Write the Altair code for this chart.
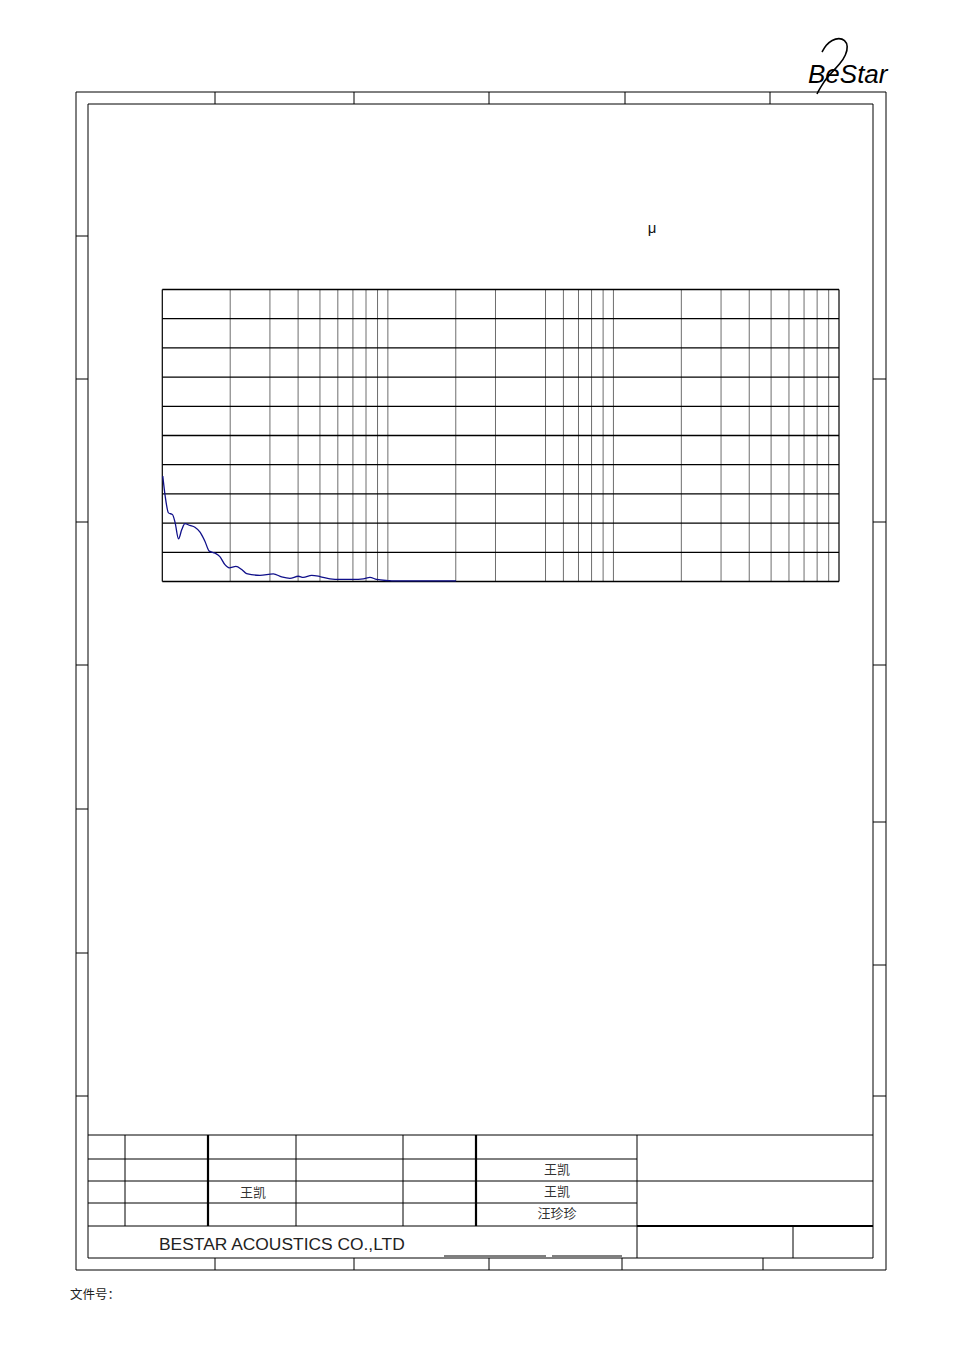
import altair as alt
import pandas as pd

# ---------------- data ----------------
freq_hz = [20.1, 20.6, 21.3, 22.2, 22.8, 23.6, 24.4, 25.2, 26.5, 27.9, 29.4, 30.9,
           32.3, 34.3, 36.0, 37.9, 39.6, 42.4, 45.0, 47.3, 54.2, 62.1, 67.6, 73.6,
           80.2, 84.3, 91.9, 100, 110.8, 122.7, 140.5, 155.6, 166.6, 178.4, 200.8,
           211.4, 268.5, 400.9]
level = [3.61, 2.92, 2.35, 2.29, 2.01, 1.46, 1.78, 1.98, 1.92, 1.86, 1.69, 1.38,
         1.04, 0.97, 0.85, 0.58, 0.47, 0.52, 0.41, 0.27, 0.21, 0.26, 0.16, 0.11,
         0.18, 0.14, 0.21, 0.17, 0.09, 0.07, 0.07, 0.09, 0.14, 0.07, 0.03,
         0.02, 0.02, 0.02]

grid_freqs = [40, 60, 80, 100, 120, 140, 160, 180, 200,
              400, 600, 1000, 1200, 1400, 1600, 1800, 2000,
              4000, 6000, 8000, 10000, 12000, 14000, 16000, 18000]
edge_freqs = [20, 20000]
grid_levels = [0, 1, 2, 3, 4, 5, 6, 7, 8, 9, 10]
f_min, f_max = 20, 20000
lvl_min, lvl_max = 0, 10

cjk_texts = ["王凯", "王凯", "王凯", "汪珍珍"]
file_label = "文件号："
company = "BESTAR ACOUSTICS CO.,LTD"
unit_text = "μ"
logo_text = "BeStar"

# ---------------- layout ----------------
W, H = 938, 1320
page_x = alt.Scale(domain=[8, 8 + W], range=[0, W], nice=False, zero=False)
page_y = alt.Scale(domain=[8, 8 + H], range=[0, H], nice=False, zero=False)

PL, PR, PT, PB = 162.3, 839.0, 289.5, 581.5
in_x = alt.Scale(type="log", domain=[f_min, f_max], range=[PL - 8, PR - 8], nice=False)
in_y = alt.Scale(domain=[lvl_min, lvl_max], range=[PB - 8, PT - 8], nice=False, zero=False)

segs = []
def seg(x, y, x2, y2, w=1.0):
    segs.append(dict(x=x, y=y, x2=x2, y2=y2, w=w))

# outer and inner frame
for (l, t, r, b) in [(76, 92, 886, 1270), (88, 104, 873, 1258)]:
    seg(l, t, r, t); seg(l, b, r, b); seg(l, t, l, b); seg(r, t, r, b)
for x in [215, 354, 489, 625, 770]:
    seg(x, 92, x, 104)
for x in [215, 354, 489, 622, 763]:
    seg(x, 1258, x, 1270)
for y in [236, 379, 522, 665, 809, 953, 1096]:
    seg(76, y, 88, y)
for y in [379, 522, 665, 822, 965, 1096]:
    seg(873, y, 886, y)
# title block
seg(88, 1135, 873, 1135)
for y in [1159, 1181, 1203, 1226]:
    seg(88, y, 637, y)
seg(637, 1181, 873, 1181)
seg(637, 1226, 873, 1226, 2.0)
for x, w in [(125, 1), (208, 2.2), (296, 1), (403, 1), (476, 2.2)]:
    seg(x, 1135, x, 1226, w)
seg(637, 1135, 637, 1258)
seg(793, 1226, 793, 1258)
seg(444, 1256, 546, 1256)
seg(552, 1256, 622, 1256)
seg_df = pd.DataFrame(segs)

frame = alt.Chart(seg_df).mark_rule(color="black").encode(
    x=alt.X("x:Q", scale=page_x, axis=None), x2="x2:Q",
    y=alt.Y("y:Q", scale=page_y, axis=None), y2="y2:Q",
    size=alt.Size("w:Q", scale=None, legend=None),
)

# logo swirl (decorative stroke)
swirl_df = pd.DataFrame({
    "x": [822, 826, 832, 839, 845, 848, 846, 840, 832, 826, 822, 819, 817],
    "y": [52, 45, 40, 38, 40, 46, 55, 64, 72, 79, 85, 90, 94],
    "o": list(range(13)),
})
swirl = alt.Chart(swirl_df).mark_line(color="black", strokeWidth=1.6, interpolate="basis").encode(
    x=alt.X("x:Q", scale=page_x, axis=None), y=alt.Y("y:Q", scale=page_y, axis=None), order="o:Q")

# ---------------- inner chart ----------------
vgrid = alt.Chart(pd.DataFrame({"f": grid_freqs, "a": lvl_min, "b": lvl_max})).mark_rule(
    color="#6e6e6e", strokeWidth=1
).encode(x=alt.X("f:Q", scale=in_x, axis=None), y=alt.Y("a:Q", scale=in_y, axis=None), y2="b:Q")

vedge = alt.Chart(pd.DataFrame({"f": edge_freqs, "a": lvl_min, "b": lvl_max})).mark_rule(
    color="black", strokeWidth=1.2
).encode(x=alt.X("f:Q", scale=in_x, axis=None), y=alt.Y("a:Q", scale=in_y, axis=None), y2="b:Q")

hgrid = alt.Chart(pd.DataFrame({"v": grid_levels, "a": f_min, "b": f_max})).mark_rule(
    color="black", strokeWidth=1.3
).encode(x=alt.X("a:Q", scale=in_x, axis=None), x2="b:Q", y=alt.Y("v:Q", scale=in_y, axis=None))

curve = alt.Chart(pd.DataFrame({"f": freq_hz, "v": level})).mark_line(
    color="#10108a", strokeWidth=1.3, interpolate="monotone"
).encode(x=alt.X("f:Q", scale=in_x, axis=None), y=alt.Y("v:Q", scale=in_y, axis=None))

# ---------------- texts ----------------
cjk_df = pd.DataFrame({"t": cjk_texts, "x": [253, 557, 557, 557], "y": [1193, 1170, 1192, 1214]})
cjk = alt.Chart(cjk_df).mark_text(font="Noto Sans CJK SC", fontSize=13, color="#333333",
                                   align="center", baseline="middle").encode(
    x=alt.X("x:Q", scale=page_x, axis=None), y=alt.Y("y:Q", scale=page_y, axis=None), text="t:N")

def label(txt, x, y, **kw):
    return alt.Chart(pd.DataFrame({"t": [txt], "x": [x], "y": [y]})).mark_text(**kw).encode(
        x=alt.X("x:Q", scale=page_x, axis=None), y=alt.Y("y:Q", scale=page_y, axis=None), text="t:N")

file_lbl = label(file_label, 70, 1295, font="Noto Sans CJK SC", fontSize=12.5, color="#222222",
                 align="left", baseline="middle")
comp = label(company, 159, 1249.5, font="Liberation Sans", fontSize=17.4, color="#222222",
             align="left", baseline="alphabetic")
unit = label(unit_text, 652, 233, font="Liberation Sans", fontSize=15, color="#111111",
             align="center", baseline="alphabetic")
logo = label(logo_text, 808, 83, font="Liberation Sans", fontSize=26, fontStyle="italic",
             color="black", align="left", baseline="alphabetic")

chart = alt.layer(frame, swirl, vgrid, hgrid, vedge, curve, cjk, file_lbl, comp, unit, logo).resolve_scale(
    x="independent", y="independent"
).properties(width=W, height=H, padding=0, autosize=alt.AutoSizeParams(type="none")).configure_view(
    stroke=None
)

chart.save("out.html", embed_options={"renderer": "svg", "actions": False})
